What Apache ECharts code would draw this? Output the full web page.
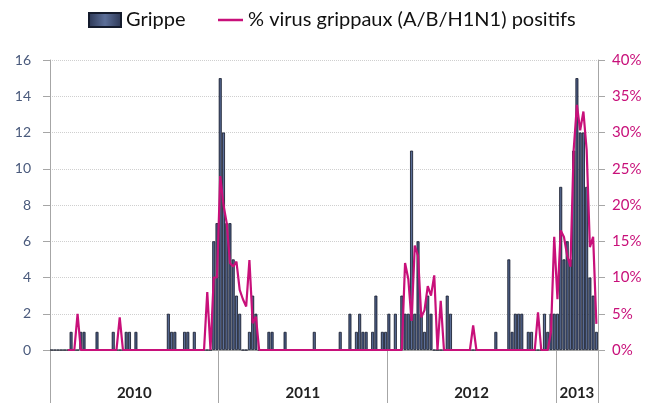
<!DOCTYPE html>
<html lang="fr">
<head>
<meta charset="UTF-8">
<title>Grippe</title>
<script src="https://cdn.jsdelivr.net/npm/echarts@6/dist/echarts.min.js"></script>
<style>
  html, body { margin: 0; padding: 0; background: #fff; }
  #main { width: 647px; height: 403px; }
</style>
</head>
<body>
<div id="main"></div>
<script>
// années et nombre de semaines affichées par année
const years = ['2010', '2011', '2012', '2013'];
const yearWeeks = [52, 52, 52, 13];

// nombre de cas de grippe par semaine
const grippe2010 = [0,0,0,0,0,0,1,0,0,1, 1,0,0,0,1,0,0,0,0,1, 0,0,0,1,1,0,1,0,0,0, 0,0,0,0,0,0,2,1,1,0, 0,1,1,0,1,0,0,0,0,0, 6,7];
const grippe2011 = [15,12,7,7,5,3,2,0,0,1, 3,2,0,0,0,1,1,0,0,0, 1,0,0,0,0,0,0,0,0,1, 0,0,0,0,0,0,0,1,0,0, 2,0,1,2,1,1,0,1,3,0, 1,1];
const grippe2012 = [2,0,2,0,3,2,2,11,2,6, 2,1,3,2,0,0,0,0,3,2, 0,0,0,0,0,0,0,0,0,0, 0,0,0,1,0,0,0,5,1,2, 2,2,0,1,1,0,0,0,2,1, 2,2];
const grippe2013 = [2,9,5,6,5,11,15,12,12,9,4,3,1];

// % de virus grippaux positifs
const pct2010 = [null,null,null,null,null,0,0,0,5,0, 0,0,0,0,0,0,0,0,0,0, 0,4.5,0,0,0,0,0,0,0,0, 0,0,0,0,0,0,0,0,0,0, 0,0,0,0,0,0,0,0,8,0, 10,10];
const pct2011 = [24,20,17.5,12,11.5,12.2,8.3,7,6,12.4, 3.7,4.6,0,0,0,0,0,0,0,0, 0,0,0,0,0,0,0,0,0,0, 0,0,0,0,0,0,0,0,0,0, 0,0,0,0,0,0,0,0,0,0, 0,0];
const pct2012 = [0,0,0,0,0,12,9.8,4,14.4,13, 4.5,5.5,8.8,7.5,10.3,0,6.8,0,0,0, 0,0,0,0,0,0,3.4,0,0,0, 0,0,0,0,0,0,0,0,0,0, 0,0,0,0,0,0,5.2,0,0,0, 2.5,15.6];
const pct2013 = [7,16.5,15.6,13,11.5,27.6,33.8,30.3,32.9,27.6,14.2,15.6,3.6];

const grippe = grippe2010.concat(grippe2011, grippe2012, grippe2013);
const pct = pct2010.concat(pct2011, pct2012, pct2013);

// libellés de semaines + limites/centres des années
const weeks = [];
const bounds = [0];
const centers = [];
let acc = 0;
years.forEach((y, i) => {
  for (let w = 1; w <= yearWeeks[i]; w++) weeks.push(y + '-S' + w);
  centers.push(acc + yearWeeks[i] / 2);
  acc += yearWeeks[i];
  bounds.push(acc);
});

const font = 'Lato, "Open Sans", sans-serif';
const axisGrey = '#a6a6a6';
const magenta = '#c8107a';
const barName = 'Grippe';
const lineName = '% virus grippaux (A/B/H1N1) positifs';

const barFill = new echarts.graphic.LinearGradient(0, 0, 1, 0, [
  { offset: 0, color: '#2b3654' },
  { offset: 0.5, color: '#5c6f99' },
  { offset: 1, color: '#2b3654' }
]);

const chart = echarts.init(document.getElementById('main'));
chart.setOption({
  animation: false,
  textStyle: { fontFamily: font },
  legend: [
    {
      top: 10,
      left: 88,
      padding: 0,
      itemWidth: 32,
      itemHeight: 14,
      textStyle: { fontSize: 20, color: '#111', fontFamily: font },
      data: [{ name: barName, icon: 'rect' }]
    },
    {
      top: 10,
      left: 218,
      padding: 0,
      itemWidth: 25,
      itemHeight: 2.5,
      textStyle: { fontSize: 20, color: '#111', fontFamily: font },
      data: [{ name: lineName, icon: 'rect', itemStyle: { color: magenta } }]
    }
  ],
  grid: { left: 50, right: 49, top: 60, bottom: 53 },
  xAxis: [
    {
      type: 'category',
      data: weeks,
      axisLine: { lineStyle: { color: axisGrey } },
      axisTick: { show: false },
      axisLabel: { show: false }
    },
    {
      type: 'value',
      min: 0,
      max: acc,
      position: 'bottom',
      axisLine: { show: false },
      splitLine: { show: false },
      axisTick: {
        show: true,
        customValues: bounds,
        length: 53,
        lineStyle: { color: axisGrey }
      },
      axisLabel: {
        customValues: centers,
        margin: 36,
        fontSize: 15,
        fontWeight: 'bold',
        color: '#222',
        formatter: (v) => years[centers.indexOf(v)]
      }
    }
  ],
  yAxis: [
    {
      type: 'value',
      min: 0,
      max: 16,
      interval: 2,
      axisLine: { show: true, lineStyle: { color: axisGrey } },
      axisTick: { show: true, length: 7, lineStyle: { color: axisGrey } },
      axisLabel: { color: '#4a5a7c', fontSize: 14, margin: 19 },
      splitLine: { lineStyle: { color: '#cfcfcf', type: 'dotted' } }
    },
    {
      type: 'value',
      min: 0,
      max: 40,
      interval: 5,
      position: 'right',
      axisLine: { show: true, lineStyle: { color: axisGrey } },
      axisTick: { show: true, length: 7, lineStyle: { color: axisGrey } },
      axisLabel: { color: magenta, fontSize: 15, margin: 14, formatter: '{value}%' },
      splitLine: { show: false }
    }
  ],
  series: [
    {
      name: barName,
      type: 'bar',
      data: grippe,
      barCategoryGap: '8%',
      itemStyle: {
        color: barFill,
        borderColor: '#141b2c',
        borderWidth: 0.8
      }
    },
    {
      name: lineName,
      type: 'line',
      yAxisIndex: 1,
      data: pct,
      symbol: 'none',
      itemStyle: { color: magenta },
      lineStyle: { color: magenta, width: 2.2 }
    }
  ]
});
</script>
</body>
</html>
